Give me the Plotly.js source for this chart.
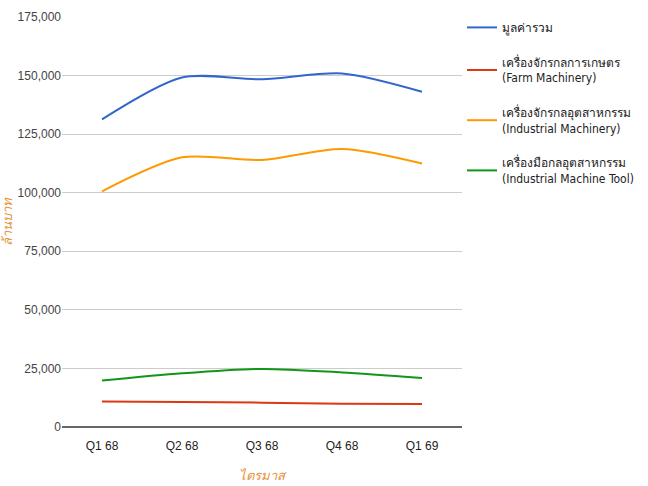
<!DOCTYPE html>
<html><head><meta charset="utf-8">
<script src="https://cdn.plot.ly/plotly-3.0.1.min.js"></script>
<style>body{margin:0;padding:0;background:#fff}#chart{width:648px;height:486px}</style>
</head><body><div id="chart"></div>
<script>
const categories = ['Q1 68', 'Q2 68', 'Q3 68', 'Q4 68', 'Q1 69'];
const totalValue = [131300, 149200, 148400, 150900, 143100];
const farmMachinery = [10900, 10700, 10400, 9900, 9800];
const industrialMachinery = [100600, 115100, 114000, 118700, 112500];
const industrialMachineTool = [19800, 22900, 24800, 23300, 20900];
const seriesNames = [
  'มูลค่ารวม',
  'เครื่องจักรกลการเกษตร<br>(Farm Machinery)',
  'เครื่องจักรกลอุตสาหกรรม<br>(Industrial Machinery)',
  'เครื่องมือกลอุตสาหกรรม<br>(Industrial Machine Tool)'
];
const colors = ['#3366cc', '#dc3912', '#ff9900', '#109618'];
const seriesValues = [totalValue, farmMachinery, industrialMachinery, industrialMachineTool];

const traces = seriesValues.map((vals, i) => ({
  type: 'scatter', mode: 'lines', x: categories, y: vals, name: seriesNames[i],
  line: {color: colors[i], width: 2, shape: 'spline', smoothing: 0.8},
  legendgroup: 'g' + i, hoverinfo: 'skip'
}));

const fam = '"DejaVu Sans Condensed", Arial, "Liberation Sans", sans-serif';
const tickFam = 'Arial, "Liberation Sans", sans-serif';
const layout = {
  width: 648, height: 486,
  margin: {l: 62, r: 186, t: 17, b: 59, autoexpand: false},
  paper_bgcolor: '#fff', plot_bgcolor: '#fff',
  font: {family: tickFam, size: 12, color: '#444'},
  showlegend: true,
  legend: {x: 1.0, y: 1.01, xanchor: 'left', yanchor: 'top', tracegroupgap: 16,
    font: {family: fam, size: 12, color: '#222'}, itemwidth: 30, traceorder: 'grouped'},
  xaxis: {
    type: 'category', range: [-0.5, 4.5], showgrid: false, ticks: 'outside', ticklen: 8,
    tickcolor: 'rgba(0,0,0,0)', showline: false, zeroline: false, tickfont: {size: 12, color: '#222'},
    title: {text: '<i>ไตรมาส</i>', font: {size: 13, color: '#e69138'}, standoff: 18}
  },
  yaxis: {
    range: [0, 175000], dtick: 25000, tickformat: ',d', showgrid: true, gridcolor: '#cccccc',
    zeroline: true, zerolinecolor: '#666', zerolinewidth: 2, ticks: '', showline: false,
    tickfont: {size: 12, color: '#444'},
    title: {text: '<i>ล้านบาท</i>', font: {size: 13, color: '#e69138'}, standoff: 8}
  }
};
Plotly.newPlot('chart', traces, layout, {displayModeBar: false, staticPlot: true});
</script></body></html>
